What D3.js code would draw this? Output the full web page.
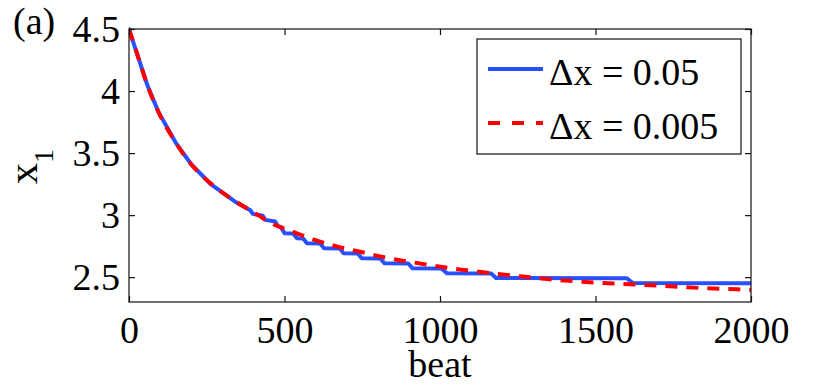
<!DOCTYPE html>
<html>
<head>
<meta charset="utf-8">
<script src="https://cdn.jsdelivr.net/npm/d3@7"></script>
<style>
  html, body { margin: 0; padding: 0; background: #fff; }
  svg { display: block; }
  svg text { font-family: "Liberation Serif", "Times New Roman", serif; }
</style>
</head>
<body>
<svg id="chart" width="830" height="390"></svg>
<script>
// ---- data ----
const xTicks = [0, 500, 1000, 1500, 2000];
const yTicks = [2.5, 3, 3.5, 4, 4.5];
const seriesNames = ["\u0394x = 0.05", "\u0394x = 0.005"];

const beatCoarse = [0, 10, 30, 60, 95, 150, 200, 265, 340, 390, 398, 430, 438, 470, 478, 488, 500, 528, 540, 560, 572, 615, 627, 678, 690, 736, 748, 808, 822, 898, 912, 1005, 1022, 1165, 1180, 1600, 1620, 2000];
const x1Coarse   = [4.50, 4.42, 4.27, 4.04, 3.83, 3.585, 3.41, 3.245, 3.11, 3.04, 3.01, 2.995, 2.962, 2.948, 2.912, 2.905, 2.855, 2.852, 2.813, 2.811, 2.774, 2.772, 2.733, 2.731, 2.693, 2.691, 2.652, 2.650, 2.612, 2.610, 2.571, 2.569, 2.531, 2.529, 2.493, 2.492, 2.453, 2.452];

const beatFine = [0, 30, 60, 95, 150, 200, 265, 340, 415, 453, 523, 592, 668, 743, 817, 897, 973, 1045, 1138, 1267, 1376, 1492, 1588, 1717, 1846, 1955, 2000];
const x1Fine   = [4.50, 4.27, 4.04, 3.83, 3.585, 3.41, 3.25, 3.115, 3.0, 2.94, 2.87, 2.805, 2.748, 2.705, 2.662, 2.626, 2.596, 2.568, 2.54, 2.505, 2.478, 2.458, 2.445, 2.43, 2.412, 2.402, 2.398];

// ---- layout ----
const svg = d3.select("#chart");
const mL = 129, mR = 751, mT = 29, mB = 302;
const x = d3.scaleLinear().domain([0, 2000]).range([mL, mR]);
const y = d3.scaleLinear().domain([2.3, 4.5]).range([mB, mT]);
const FS = 38;
const FONT = "Liberation Serif";
const blue = "#2850ff", red = "#ff0000";

// clip
svg.append("defs").append("clipPath").attr("id", "clip")
  .append("rect").attr("x", mL).attr("y", mT - 3).attr("width", mR - mL).attr("height", mB - mT + 3);

// lines
const coarse = beatCoarse.map((b, i) => [b, x1Coarse[i]]);
const fine = beatFine.map((b, i) => [b, x1Fine[i]]);
const lineLin = d3.line().x(d => x(d[0])).y(d => y(d[1]));
const lineSmooth = d3.line().x(d => x(d[0])).y(d => y(d[1])).curve(d3.curveMonotoneX);

const g = svg.append("g").attr("clip-path", "url(#clip)");
g.append("path").datum(coarse).attr("d", lineLin)
  .attr("fill", "none").attr("stroke", blue).attr("stroke-width", 4)
  .attr("stroke-linejoin", "round").attr("stroke-linecap", "round");
g.append("path").datum(fine).attr("d", lineSmooth)
  .attr("fill", "none").attr("stroke", red).attr("stroke-width", 4)
  .attr("stroke-dasharray", "12,9");

// axes box
const axisColor = "#111";
svg.append("rect").attr("x", mL).attr("y", mT).attr("width", mR - mL).attr("height", mB - mT)
  .attr("fill", "none").attr("stroke", axisColor).attr("stroke-width", 1.2);

const tickLen = 6;
const axB = d3.axisBottom(x).tickValues(xTicks).tickSize(-tickLen).tickFormat(d => String(d)).tickPadding(14);
const gB = svg.append("g").attr("transform", `translate(0,${mB})`).call(axB);
const axT = d3.axisTop(x).tickValues(xTicks).tickSize(-tickLen).tickFormat("");
const gT = svg.append("g").attr("transform", `translate(0,${mT})`).call(axT);
const axL = d3.axisLeft(y).tickValues(yTicks).tickSize(-tickLen).tickFormat(d => String(d)).tickPadding(9);
const gL = svg.append("g").attr("transform", `translate(${mL},0)`).call(axL);
const axR = d3.axisRight(y).tickValues(yTicks).tickSize(-tickLen).tickFormat("");
const gR = svg.append("g").attr("transform", `translate(${mR},0)`).call(axR);

[gB, gT, gL, gR].forEach(gg => {
  gg.attr("font-family", FONT);
  gg.select(".domain").remove();
  gg.selectAll(".tick line").attr("stroke", axisColor).attr("stroke-width", 1.2);
  gg.selectAll("text").attr("font-family", FONT).attr("font-size", FS).attr("fill", "#000");
});
gB.selectAll("text").attr("dy", "0.72em");
gL.selectAll("text").attr("dy", "0.33em");

// axis labels
svg.append("text").attr("x", (mL + mR) / 2).attr("y", 377).attr("font-family", FONT)
  .attr("text-anchor", "middle").attr("font-size", FS).text("beat");

const yl = svg.append("text").attr("transform", "translate(37,184) rotate(-90)")
  .attr("font-family", FONT).attr("font-size", FS + 4);
yl.append("tspan").text("x");
yl.append("tspan").attr("dy", 16).attr("font-size", 28).text("1");

// panel label
svg.append("text").attr("x", 13).attr("y", 34).attr("font-family", FONT).attr("font-size", FS).text("(a)");

// legend
const lg = svg.append("g");
lg.append("rect").attr("x", 477).attr("y", 39).attr("width", 264).attr("height", 115)
  .attr("fill", "#fff").attr("stroke", axisColor).attr("stroke-width", 1.2);
const legY = [69, 123];
const legColors = [blue, red];
const legDash = [null, "12,12"];
seriesNames.forEach((name, i) => {
  lg.append("line").attr("x1", 488).attr("x2", 543).attr("y1", legY[i]).attr("y2", legY[i])
    .attr("stroke", legColors[i]).attr("stroke-width", 4)
    .attr("stroke-dasharray", legDash[i]);
  lg.append("text").attr("x", 549).attr("y", legY[i] + 16).attr("font-family", FONT)
    .attr("font-size", FS).text(name);
});
</script>
</body>
</html>
